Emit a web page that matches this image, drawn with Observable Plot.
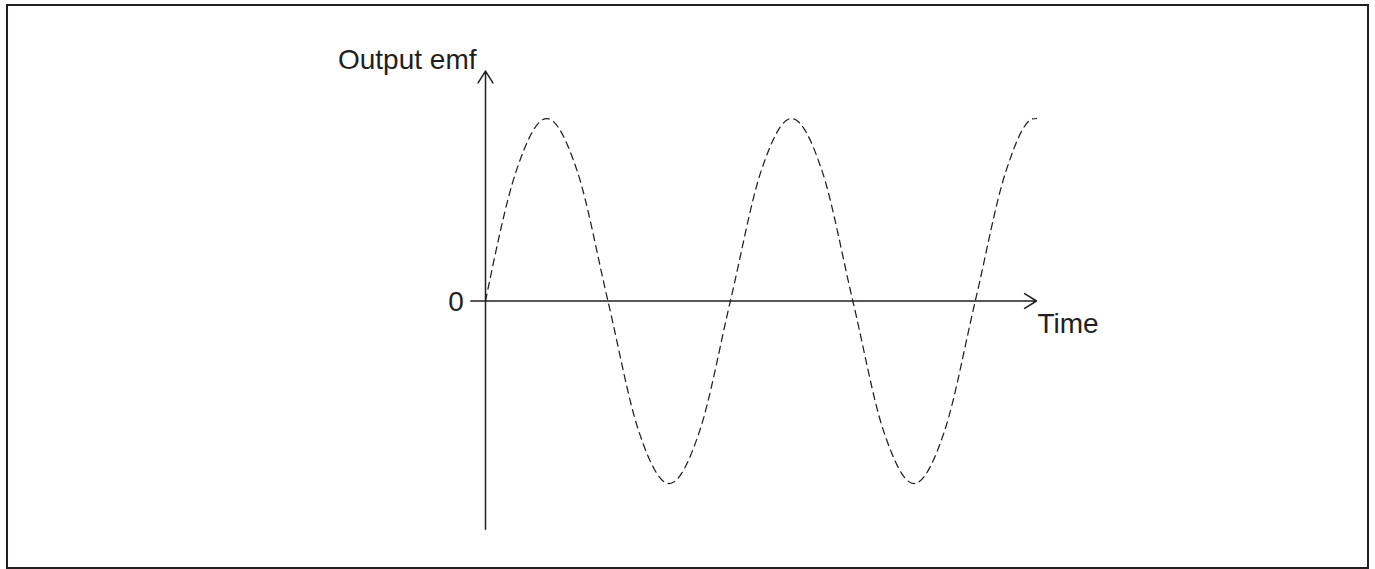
<!DOCTYPE html>
<html>
<head>
<meta charset="utf-8">
<script src="https://cdn.jsdelivr.net/npm/d3@7"></script>
<script src="https://cdn.jsdelivr.net/npm/@observablehq/plot@0.6"></script>
<style>
  html, body { margin: 0; padding: 0; background: #fff; }
  #chart { width: 1375px; height: 569px; }
</style>
</head>
<body>
<div id="chart"></div>
<script>
// Time in cycles (read at eighths of a cycle, plus the flat end of the last crest)
const time = [0, 0.125, 0.25, 0.375, 0.5, 0.625, 0.75, 0.875, 1,
              1.125, 1.25, 1.375, 1.5, 1.625, 1.75, 1.875, 2, 2.125, 2.235, 2.25];
// Output emf (normalised to peak)
const emf = [0, 0.71, 1, 0.71, 0, -0.71, -1, -0.71, 0,
             0.71, 1, 0.71, 0, -0.71, -1, -0.71, 0, 0.71, 0.998, 1];
// Axis extents (data units)
const xAxisExtent = [-0.06, 2.25];
const yAxisExtent = [-1.25, 1.26];
const labels = { y: "Output emf", x: "Time", zero: "0" };

const ink = "#231f20";
const font = "'Liberation Sans', Arial, Helvetica, sans-serif";

const wave = time.map((t, i) => ({ t, v: emf[i] }));

const chart = Plot.plot({
  width: 1375,
  height: 569,
  marginLeft: 6.5,
  marginTop: 4.5,
  marginRight: 7.5,
  marginBottom: 1.5,
  style: { fontFamily: font, background: "#fff", color: ink },
  x: { domain: [0, 2.25], range: [485, 1036], axis: null },
  y: { domain: [-1, 1], range: [483, 118], axis: null },
  marks: [
    Plot.frame({ stroke: ink, strokeWidth: 2 }),
    Plot.line(wave, {
      x: "t", y: "v", curve: "monotone-x",
      stroke: ink, strokeWidth: 1.25, strokeDasharray: "7,5"
    }),
    // y axis with arrow
    Plot.arrow([0], {
      x1: 0, x2: 0, y1: yAxisExtent[0], y2: yAxisExtent[1],
      stroke: ink, strokeWidth: 1.5, headLength: 14, headAngle: 64
    }),
    // x axis with arrow
    Plot.arrow([0], {
      x1: xAxisExtent[0], x2: xAxisExtent[1], y1: 0, y2: 0,
      stroke: ink, strokeWidth: 1.5, headLength: 14, headAngle: 64
    }),
    Plot.text([labels.y], {
      x: 0, y: yAxisExtent[1], text: d => d,
      textAnchor: "end", lineAnchor: "bottom", dx: -9, dy: -2.5,
      fontSize: 28, fill: ink, fontFamily: font
    }),
    Plot.text([labels.zero], {
      x: xAxisExtent[0], y: 0, text: d => d,
      textAnchor: "end", lineAnchor: "middle", dx: -7, dy: 1,
      fontSize: 28, fill: ink, fontFamily: font
    }),
    Plot.text([labels.x], {
      x: xAxisExtent[1], y: 0, text: d => d,
      textAnchor: "start", lineAnchor: "bottom", dx: 1, dy: 31.5,
      fontSize: 28, fill: ink, fontFamily: font
    })
  ]
});
document.getElementById("chart").appendChild(chart);
</script>
</body>
</html>
